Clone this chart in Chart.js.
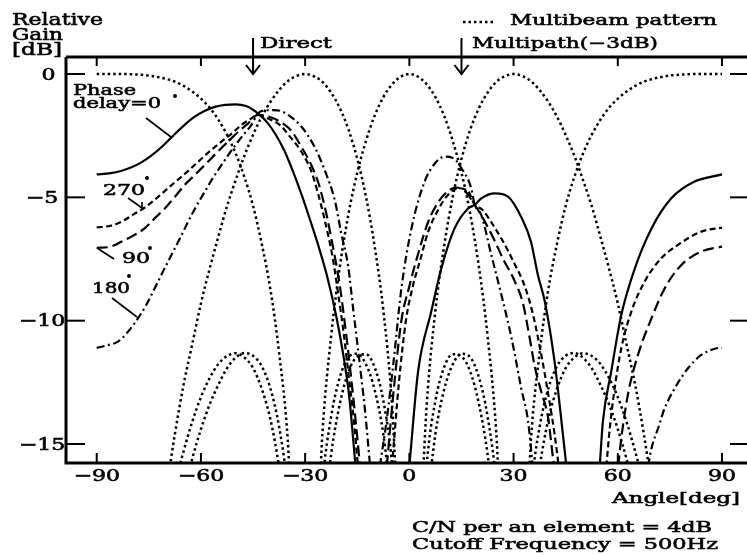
<!DOCTYPE html>
<html><head><meta charset="utf-8">
<script src="https://cdn.jsdelivr.net/npm/chart.js@4"></script>
<style>html,body{margin:0;padding:0;background:#fff;}canvas{display:block;}</style>
</head><body>
<canvas id="c" width="747" height="555"></canvas>
<script>
// ---------- data (angles in deg, gains in dB) ----------
const xTicks = [-90, -60, -30, 0, 30, 60, 90];
const yTicks = [0, -5, -10, -15];
const arrivalAngles = [-45, 15];
const arrivalLabels = ['Direct', 'Multipath(\u22123dB)'];

// Multibeam pattern (dotted), sampled every 2.5 deg
const beamAngles = [-90,-87.5,-85,-82.5,-80,-77.5,-75,-72.5,-70,-67.5,-65,-62.5,-60,-57.5,-55,-52.5,-50,-47.5,-45,-42.5,-40,-37.5,-35,-32.5,-30,-27.5,-25,-22.5,-20,-17.5,-15,-12.5,-10,-7.5,-5,-2.5,0,2.5,5,7.5,10,12.5,15,17.5,20,22.5,25,27.5,30,32.5,35,37.5,40,42.5,45,47.5,50,52.5,55,57.5,60,62.5,65,67.5,70,72.5,75,77.5,80,82.5,85,87.5,90];
const beamEdge = [0,0,0,0,-0.01,-0.03,-0.06,-0.12,-0.2,-0.31,-0.48,-0.71,-1.0,-1.36,-1.85,-2.46,-3.22,-4.17,-5.34,-6.88,-8.73,-11.3,-14.85,-21.8,-22,-22,-16.6,-13.87,-12.29,-11.48,-11.34,-11.77,-12.8,-14.6,-17.7,-22,-22,-22,-17.7,-14.6,-12.8,-11.77,-11.34,-11.48,-12.29,-13.87,-16.6,-22,-22,-21.8,-14.85,-11.3,-8.73,-6.88,-5.34,-4.17,-3.22,-2.46,-1.85,-1.36,-1.0,-0.71,-0.48,-0.31,-0.2,-0.12,-0.06,-0.03,-0.01,0,0,0,0];
const beamMinus30 = [-22,-22,-22,-22,-22,-22,-22,-19.45,-16.94,-14.6,-12.6,-10.95,-9.3,-7.9,-6.6,-5.36,-4.3,-3.32,-2.47,-1.73,-1.13,-0.65,-0.29,-0.08,0,-0.09,-0.32,-0.76,-1.39,-2.26,-3.44,-4.97,-6.98,-9.57,-13.4,-20.1,-22,-21.35,-15.82,-13.24,-11.89,-11.36,-11.45,-12.06,-13.36,-15.4,-18.6,-22,-22,-22,-18.9,-15.96,-14.0,-12.76,-11.92,-11.49,-11.32,-11.43,-11.76,-12.33,-13.1,-14.1,-15.3,-16.7,-18.6,-20.6,-22,-22,-22,-22,-22,-22,-22];
const beam0 = [-22,-22,-22,-22,-22,-22,-22,-22,-20.5,-18.8,-17.1,-15.6,-14.4,-13.4,-12.6,-11.93,-11.5,-11.31,-11.42,-11.84,-12.75,-14.3,-16.9,-22,-22,-21.5,-14.5,-10.6,-7.8,-5.65,-4.0,-2.72,-1.69,-0.94,-0.42,-0.11,0,-0.11,-0.42,-0.94,-1.69,-2.72,-4.0,-5.65,-7.8,-10.6,-14.5,-21.5,-22,-22,-16.9,-14.3,-12.75,-11.84,-11.42,-11.31,-11.5,-11.93,-12.6,-13.4,-14.4,-15.6,-17.1,-18.8,-20.5,-22,-22,-22,-22,-22,-22,-22,-22];
const beam30 = [-22,-22,-22,-22,-22,-22,-22,-20.6,-18.6,-16.7,-15.3,-14.1,-13.1,-12.33,-11.76,-11.43,-11.32,-11.49,-11.92,-12.76,-14.0,-15.96,-18.9,-22,-22,-22,-18.6,-15.4,-13.36,-12.06,-11.45,-11.36,-11.89,-13.24,-15.82,-21.35,-22,-20.1,-13.4,-9.57,-6.98,-4.97,-3.44,-2.26,-1.39,-0.76,-0.32,-0.09,0,-0.08,-0.29,-0.65,-1.13,-1.73,-2.47,-3.32,-4.3,-5.36,-6.6,-7.9,-9.3,-10.95,-12.6,-14.6,-16.94,-19.45,-22,-22,-22,-22,-22,-22,-22];

// Adaptive output, phase delay = 0 (solid)
const phase0Angles = [-90,-86,-83,-80,-77,-74,-71,-68,-65,-62,-59,-56,-53,-50,-47,-45,-43.6,-41,-38.5,-36,-33.5,-31,-28.5,-26,-23.5,-21,-19,-17.3,-15.5,-8,0,2.5,6.3,9.2,13,16.9,18.8,20.7,24.6,28.4,32.2,35,37,39,41.8,43.8,45.2,50,54.8,55.7,58.1,61,64.9,69.7,75.4,82.1,90];
const phase0Gains  = [-4.07,-4.02,-3.93,-3.78,-3.57,-3.28,-2.92,-2.5,-2.1,-1.75,-1.5,-1.33,-1.25,-1.23,-1.3,-1.45,-1.6,-1.95,-2.45,-3.1,-3.95,-4.9,-5.95,-7.05,-8.3,-9.85,-11.4,-13.1,-15.9,null,-15.9,-12.07,-9.63,-7.88,-6.26,-5.45,-5.31,-5.04,-4.84,-4.97,-5.8,-6.8,-8.15,-9.23,-11.66,-14.1,-15.9,null,-15.9,-14.1,-12.07,-9.77,-7.88,-6.26,-5.04,-4.36,-4.07];
// phase delay = 270 (short dashes)
const phase270Angles = [-90,-86,-83,-79.5,-76.2,-72.5,-69.5,-65.5,-61.8,-58,-54.1,-51,-48.4,-46,-43.6,-40.7,-37,-34.9,-31.1,-28.2,-26.3,-24.4,-22,-20.5,-19,-17.5,-16,-14.8,-10,-5,-3,-1,1,3,5.4,8.3,11.1,14,16.9,18.8,21,24,27,30.3,33.2,35.5,38,40,41.8,43,50,56.7,57.7,59.1,61,63.9,67.7,72.5,77.3,84,90];
const phase270Gains  = [-6.22,-6.15,-6.0,-5.7,-5.42,-5.0,-4.63,-4.15,-3.69,-3.2,-2.74,-2.4,-2.07,-1.85,-1.66,-1.8,-2.1,-2.45,-3.15,-3.95,-4.84,-5.9,-7.5,-8.9,-10.4,-12.2,-14,-15.9,null,-15.9,-12.5,-10.0,-8.6,-7.6,-6.4,-5.5,-4.9,-4.63,-4.75,-5.3,-5.5,-6.1,-6.8,-7.7,-8.6,-9.7,-11.4,-13.0,-14.6,-15.9,null,-15.9,-14.35,-12.74,-11.12,-9.63,-8.42,-7.47,-6.93,-6.39,-6.23];
// phase delay = 90 (long dashes)
const phase90Angles = [-90,-86,-82.9,-79.5,-76.2,-73.3,-70.4,-67.5,-64.7,-61.8,-58.9,-55.5,-52.2,-49.3,-46.4,-43.6,-40,-37,-34,-31.1,-28.2,-26,-24,-22,-20,-18.5,-17,-15.5,-14.2,-10,-6.5,-4.5,-2.3,0,2.5,5.4,8.3,11.1,13.5,16,18.8,21,24,27,30,32.7,34.5,36.1,38,39.9,41.4,41.8,50,60.1,61,62.9,65.8,69.7,73.5,78.3,84,90];
const phase90Gains  = [-7.05,-7.0,-6.8,-6.55,-6.26,-5.85,-5.45,-4.98,-4.5,-4.1,-3.69,-3.2,-2.74,-2.35,-2.0,-1.66,-1.75,-1.95,-2.3,-2.95,-3.7,-4.5,-5.6,-7.0,-8.6,-10.2,-12,-14,-15.9,null,-15.9,-12.8,-10.0,-8.6,-7.3,-6.0,-5.2,-4.75,-4.6,-4.75,-5.3,-5.8,-6.6,-7.5,-8.3,-9.3,-10.6,-11.86,-12.9,-13.9,-15.6,-15.9,null,-15.9,-14.77,-13.0,-11.39,-9.9,-8.69,-7.74,-7.2,-7.0];
// phase delay = 180 (dash-dot)
const phase180Angles = [-90,-87,-83.9,-81,-78.1,-75.7,-73.3,-70.9,-68.5,-66,-63.7,-61.3,-58.9,-56.5,-54.1,-51.7,-49.3,-47.4,-45.5,-43.6,-41,-39.2,-37,-34.9,-31.1,-27.3,-24.4,-21.5,-19.6,-17.6,-16.2,-14.5,-12.8,-11.3,-10,-8.5,-6.5,-4.5,-2.3,0.6,4.4,7.5,10.2,12.5,15,17.8,18.8,20.7,23.6,26.5,29.4,32.2,34.2,35.5,50,68.7,69.7,71.6,73.5,76.4,80.2,84,88.4,90];
const phase180Gains  = [-11.1,-11.0,-10.85,-10.45,-9.9,-9.35,-8.69,-8.0,-7.34,-6.65,-5.99,-5.35,-4.77,-4.2,-3.69,-3.2,-2.74,-2.4,-2.07,-1.6,-1.47,-1.46,-1.5,-1.66,-2.13,-2.95,-3.89,-5.1,-6.46,-7.81,-9.5,-11.5,-13.6,-15.9,null,-15.9,-14,-11.6,-8.7,-6.26,-4.36,-3.6,-3.35,-3.4,-3.82,-4.63,-5.3,-5.72,-7.34,-8.96,-10.7,-12.74,-14.1,-15.9,null,-15.9,-15.17,-14.36,-13.55,-12.74,-11.93,-11.39,-11.12,-11.1];

// ---------- styles ----------
const DOT = [2.5, 3];
const SERIF = '"DejaVu Serif", "Liberation Serif", serif';

function series(angles, gains, dash, width) {
  return {
    data: angles.map((a, i) => ({x: a, y: gains[i]})),
    borderColor: '#000', borderWidth: width, borderDash: dash,
    pointRadius: 0, fill: false, spanGaps: false,
    cubicInterpolationMode: 'monotone', clip: 0
  };
}

function drawText(ctx, str, left, baseline, width, size) {
  ctx.save();
  ctx.font = size + 'px ' + SERIF;
  const w = ctx.measureText(str).width;
  ctx.translate(left, baseline);
  ctx.scale(width / w, 1);
  ctx.textAlign = 'left';
  ctx.textBaseline = 'alphabetic';
  ctx.fillStyle = '#000';
  ctx.strokeStyle = '#000';
  ctx.lineWidth = 0.55;
  ctx.setLineDash([]);
  ctx.fillText(str, 0, 0);
  ctx.strokeText(str, 0, 0);
  ctx.restore();
}
function line(ctx, x1, y1, x2, y2) { ctx.beginPath(); ctx.moveTo(x1, y1); ctx.lineTo(x2, y2); ctx.stroke(); }
function dot(ctx, x, y) { ctx.beginPath(); ctx.arc(x, y, 2, 0, Math.PI * 2); ctx.fill(); }

const decor = {
  id: 'decor',
  afterDatasetsDraw(chart) {
    const ctx = chart.ctx, a = chart.chartArea, xs = chart.scales.x, ys = chart.scales.y;
    ctx.save();
    ctx.strokeStyle = '#000'; ctx.fillStyle = '#000'; ctx.lineCap = 'butt';
    // frame
    ctx.lineWidth = 3;
    ctx.beginPath(); ctx.moveTo(a.left, a.top); ctx.lineTo(a.left, a.bottom); ctx.lineTo(a.right, a.bottom); ctx.stroke();
    line(ctx, a.left, a.top, a.right, a.top);
    // inward ticks
    ctx.lineWidth = 2;
    xTicks.forEach(v => {
      const px = xs.getPixelForValue(v);
      line(ctx, px, a.bottom, px, a.bottom - 10);
      line(ctx, px, a.top, px, a.top + 9);
    });
    yTicks.forEach(v => {
      const py = ys.getPixelForValue(v);
      line(ctx, a.left, py, a.left + 19, py);
      line(ctx, a.right - 17, py, a.right, py);
    });
    // tick labels
    ctx.font = '16px ' + SERIF;
    const k = 28 / ctx.measureText('30').width;
    xTicks.forEach(v => {
      const s = v < 0 ? '\u2212' + Math.abs(v) : String(v);
      ctx.font = '16px ' + SERIF;
      const w = ctx.measureText(s).width * k;
      drawText(ctx, s, xs.getPixelForValue(v) - w / 2, 481, w, 16);
    });
    yTicks.forEach(v => {
      const s = v < 0 ? '\u2212' + Math.abs(v) : String(v);
      ctx.font = '16px ' + SERIF;
      const w = ctx.measureText(s).width * k;
      const cx = v < 0 ? 42 : 48.5;
      drawText(ctx, s, cx - w / 2, ys.getPixelForValue(v) + 5.5, w, 16);
    });
    // arrows
    ctx.lineWidth = 2;
    arrivalAngles.forEach(v => {
      const px = xs.getPixelForValue(v);
      line(ctx, px, 38, px, 74);
      ctx.beginPath(); ctx.moveTo(px - 7, 65); ctx.lineTo(px, 74); ctx.lineTo(px + 7, 65); ctx.stroke();
    });
    // legend sample
    ctx.lineWidth = 2.5; ctx.setLineDash(DOT);
    line(ctx, 463, 22, 494, 22);
    ctx.setLineDash([]);
    // leaders
    ctx.lineWidth = 1.6;
    line(ctx, 146, 118, 171, 137);
    line(ctx, 128, 198, 142, 208); line(ctx, 142, 202, 142, 209);
    line(ctx, 97, 248, 114, 259);
    line(ctx, 112, 298, 137, 317);
    dot(ctx, 175, 96); dot(ctx, 147, 178); dot(ctx, 150, 248); dot(ctx, 129, 276);
    ctx.restore();
  },
  afterDraw(chart) {
    const ctx = chart.ctx;
    drawText(ctx, 'Relative', 12, 25, 91, 16);
    drawText(ctx, 'Gain', 12, 40, 51, 16);
    drawText(ctx, '[dB]', 12, 55, 50, 16);
    drawText(ctx, 'Multibeam pattern', 510, 25, 207, 15);
    drawText(ctx, arrivalLabels[0], 260, 48, 72, 15);
    drawText(ctx, arrivalLabels[1], 472, 48, 186, 15);
    drawText(ctx, 'Phase', 73, 94.5, 63, 15);
    drawText(ctx, 'delay=0', 73, 107.5, 88, 15);
    drawText(ctx, '270', 103, 195, 42, 15);
    drawText(ctx, '90', 122, 263, 28, 15);
    drawText(ctx, '180', 92, 293, 38, 15);
    drawText(ctx, 'Angle[deg]', 612, 503, 128, 15);
    drawText(ctx, 'C/N per an element = 4dB', 412, 532, 300, 15);
    drawText(ctx, 'Cutoff Frequency = 500Hz', 412, 549, 306, 15);
  }
};

new Chart(document.getElementById('c'), {
  type: 'line',
  data: {
    datasets: [
      series(beamAngles, beamEdge, DOT, 2.5),
      series(beamAngles, beamMinus30, DOT, 2.5),
      series(beamAngles, beam0, DOT, 2.5),
      series(beamAngles, beam30, DOT, 2.5),
      series(phase0Angles, phase0Gains, [], 2.2),
      series(phase270Angles, phase270Gains, [6, 3.5], 2.2),
      series(phase90Angles, phase90Gains, [11, 5], 2.2),
      series(phase180Angles, phase180Gains, [8, 3.5, 2, 3.5], 2.2)
    ]
  },
  options: {
    responsive: false, animation: false, devicePixelRatio: 1,
    layout: {padding: {left: 66, top: 57, right: 0, bottom: 92}},
    plugins: {legend: {display: false}, tooltip: {enabled: false}},
    elements: {line: {borderCapStyle: 'butt', borderJoinStyle: 'round'}},
    scales: {
      x: {type: 'linear', min: -98.84, max: 97.19, display: false},
      y: {type: 'linear', min: -15.77, max: 0.69, display: false}
    }
  },
  plugins: [decor]
});
</script>
</body></html>
